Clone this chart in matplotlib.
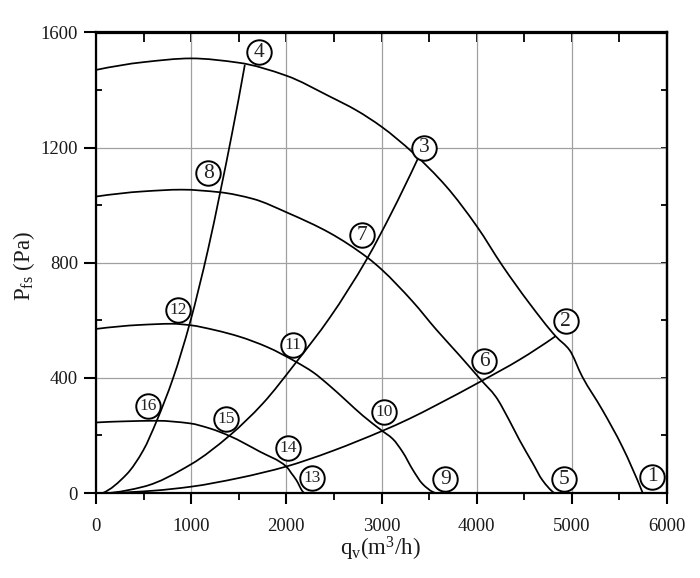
import matplotlib
matplotlib.use("Agg")
import matplotlib.pyplot as plt
import numpy as np
from matplotlib.path import Path
from matplotlib.patches import PathPatch

plt.rcParams['font.family'] = ['Liberation Serif', 'DejaVu Serif']
plt.rcParams['mathtext.fontset'] = 'custom'
plt.rcParams['mathtext.rm'] = 'Liberation Serif'
plt.rcParams['mathtext.it'] = 'Liberation Serif:italic'

# Fan curves (speed levels), q in m3/h, P in Pa
fan_a_q = [0, 500, 1000, 1500, 2000, 2454, 2734, 3003, 3328, 3678, 4003, 4272, 4552, 4832, 4975, 5110, 5320, 5530, 5745]
fan_a_p = [1470, 1497, 1510, 1495, 1450, 1378, 1330, 1272, 1183, 1066, 926, 789, 660, 544, 497, 404, 289, 161, 0]

fan_b_q = [0, 500, 900, 1300, 1650, 2017, 2454, 2856, 3003, 3328, 3575, 3820, 4045, 4200, 4340, 4450, 4590, 4690, 4815]
fan_b_p = [1030, 1048, 1054, 1045, 1022, 973, 904, 817, 776, 665, 568, 478, 393, 335, 254, 184, 103, 45, 0]

fan_c_q = [0, 460, 800, 990, 1250, 1510, 1800, 2105, 2279, 2454, 2629, 2803, 3003, 3118, 3223, 3330, 3430, 3538, 3570]
fan_c_p = [570, 584, 588, 583, 566, 543, 507, 455, 420, 373, 321, 269, 217, 188, 142, 80, 32, 4, 0]

fan_d_q = [0, 300, 640, 986, 1200, 1405, 1720, 2000, 2050, 2105, 2175, 2190]
fan_d_p = [245, 249, 251, 242, 224, 198, 144, 92, 70, 45, 4, 0]

# System (resistance) curves
sys_a_q = [70, 322, 496, 637, 811, 986, 1180, 1302, 1430, 1563]
sys_a_p = [0, 65, 148, 250, 400, 590, 850, 1040, 1250, 1486]

sys_b_q = [110, 500, 1000, 1405, 1750, 2105, 2454, 2850, 3100, 3381]
sys_b_p = [0, 22, 100, 200, 310, 455, 608, 815, 970, 1161]

sys_c_q = [150, 600, 1000, 1500, 2000, 2210, 2500, 3003, 3293, 3574, 4045, 4450, 4821]
sys_c_p = [0, 8, 22, 52, 92, 114, 148, 215, 258, 305, 388, 463, 543]

# Circled point labels
label_text = ['1', '2', '3', '4', '5', '6', '7', '8', '9', '10', '11', '12', '13', '14', '15', '16']
label_q = [5845, 4936, 3450, 1709, 4919, 4080, 2797, 1178, 3671, 3031, 2069, 863, 2273, 2017, 1363, 549]
label_p = [57, 596, 1200, 1531, 48, 457, 896, 1111, 48, 283, 515, 637, 51, 155, 256, 303]

x_ticks = [0, 1000, 2000, 3000, 4000, 5000, 6000]
y_ticks = [0, 400, 800, 1200, 1600]


def _end_slope(h0, h1, d0, d1):
    m = ((2 * h0 + h1) * d0 - h0 * d1) / (h0 + h1)
    if np.sign(m) != np.sign(d0):
        m = 0.0
    elif np.sign(d0) != np.sign(d1) and abs(m) > abs(3 * d0):
        m = 3 * d0
    return m


def smooth_path(xs, ys):
    """Cubic Hermite (PCHIP slopes) drawn as Bezier segments through the given points."""
    x = np.asarray(xs, float)
    y = np.asarray(ys, float)
    h = np.diff(x)
    d = np.diff(y) / h
    n = len(x)
    m = np.zeros(n)
    m[0] = _end_slope(h[0], h[1], d[0], d[1])
    m[-1] = _end_slope(h[-1], h[-2], d[-1], d[-2])
    for k in range(1, n - 1):
        if d[k - 1] * d[k] <= 0:
            m[k] = 0.0
        else:
            w1 = 2 * h[k] + h[k - 1]
            w2 = h[k] + 2 * h[k - 1]
            m[k] = (w1 + w2) / (w1 / d[k - 1] + w2 / d[k])
    verts = [(x[0], y[0])]
    codes = [Path.MOVETO]
    for k in range(n - 1):
        verts += [(x[k] + h[k] / 3, y[k] + m[k] * h[k] / 3),
                  (x[k + 1] - h[k] / 3, y[k + 1] - m[k + 1] * h[k] / 3),
                  (x[k + 1], y[k + 1])]
        codes += [Path.CURVE4] * 3
    return Path(verts, codes)


fig = plt.figure(figsize=(7, 5.78), dpi=100)
ax = fig.add_axes([96 / 700, 1 - 493 / 578, (667 - 96) / 700, (493 - 32.5) / 578])
ax.set_xlim(0, 6000)
ax.set_ylim(0, 1600)

ax.grid(True, which='major', color='#a0a0a0', lw=0.9, zorder=0)
ax.set_axisbelow(True)

for q, p in [(fan_a_q, fan_a_p), (fan_b_q, fan_b_p), (fan_c_q, fan_c_p), (fan_d_q, fan_d_p),
             (sys_a_q, sys_a_p), (sys_b_q, sys_b_p), (sys_c_q, sys_c_p)]:
    ax.add_patch(PathPatch(smooth_path(q, p), facecolor='none', edgecolor='black',
                           lw=1.25, zorder=3, capstyle='round', joinstyle='round'))

ax.scatter(label_q, label_p, s=310, facecolor='white', edgecolor='black', linewidth=1.4,
           zorder=5, clip_on=False)
for t, q, p in zip(label_text, label_q, label_p):
    fs = 15.5 if len(t) == 1 else 12.5
    ax.text(q, p, t, ha='center', va='center', fontsize=fs, color='#222222', zorder=6)

ax.set_xticks(x_ticks)
ax.set_yticks(y_ticks)
ax.set_xticks(range(500, 6000, 1000), minor=True)
ax.set_yticks(range(200, 1600, 400), minor=True)
ax.tick_params(axis='x', which='major', direction='out', length=8, width=1.5, pad=10,
               labelsize=13.5, labelcolor='#1a1a1a', top=False)
ax.tick_params(axis='x', which='minor', direction='out', length=5, width=1.3, top=False)
ax.tick_params(axis='y', which='major', direction='out', length=9, width=1.5, pad=4,
               labelsize=13.5, labelcolor='#1a1a1a', right=False)
ax.tick_params(axis='y', which='minor', direction='in', length=4, width=1.3, right=False)
for s in ax.spines.values():
    s.set_linewidth(1.6)

top = ax.secondary_xaxis('top')
top.set_xticks(range(0, 6001, 500))
top.set_xticklabels([])
top.tick_params(direction='in', length=7, width=1.3)
top.spines['top'].set_linewidth(1.6)

right = ax.secondary_yaxis('right')
right.set_yticks(range(0, 1601, 200))
right.set_yticklabels([])
right.tick_params(direction='in', length=4, width=1.3)
right.spines['right'].set_linewidth(1.6)

fig.text(380 / 700, 1 - 549 / 578, r'$\mathrm{q_v}$(m$^3$/h)', ha='center', va='center',
         fontsize=16.5, color='#1a1a1a')
fig.text(24 / 700, 1 - 266 / 578, r'$\mathrm{P_{fs}}$ (Pa)', ha='center', va='center',
         rotation=90, fontsize=16.5, color='#1a1a1a')

fig.savefig('out.png', dpi=100)
